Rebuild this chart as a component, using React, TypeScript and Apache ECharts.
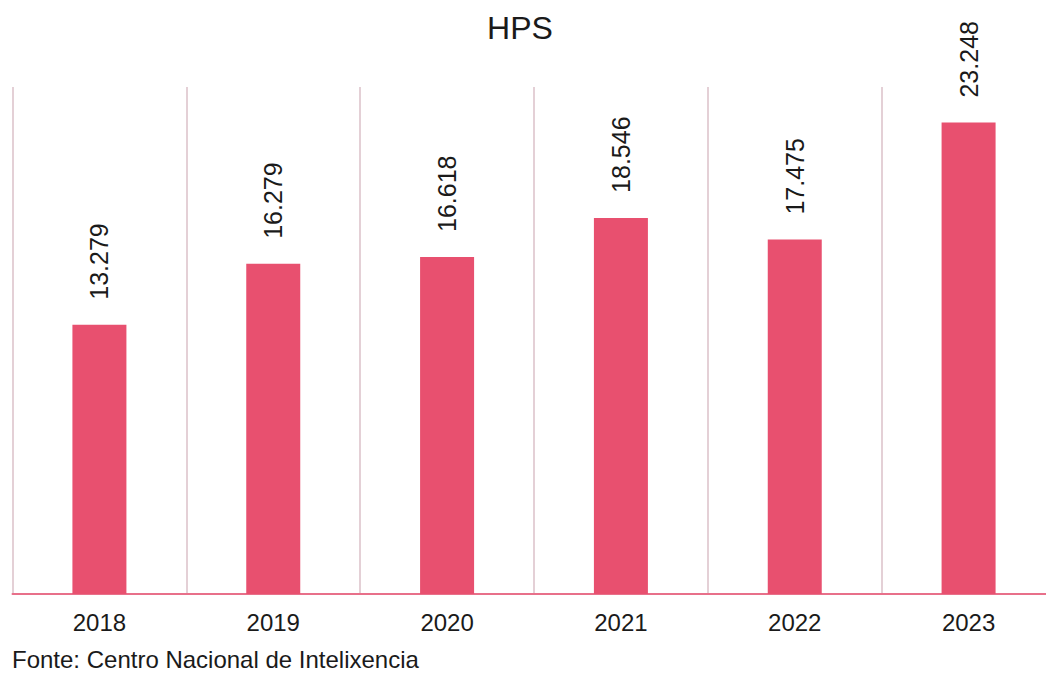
import React, { useEffect, useRef } from "react";
import * as echarts from "echarts";

const categories = ["2018", "2019", "2020", "2021", "2022", "2023"];
const values = [13279, 16279, 16618, 18546, 17475, 23248];
const titleText = "HPS";
const sourceText = "Fonte: Centro Nacional de Intelixencia";

const fmt = (v: number) => {
  const s = String(Math.round(v));
  return s.replace(/\B(?=(\d{3})+(?!\d))/g, ".");
};

export default function App() {
  const ref = useRef<HTMLDivElement>(null);
  useEffect(() => {
    const chart = echarts.init(ref.current!, null, { renderer: "svg" });
    const font = "'Liberation Sans', Arial, sans-serif";
    chart.setOption({
      animation: false,
      backgroundColor: "#ffffff",
      title: {
        text: titleText,
        left: 515,
        top: 7,
        textAlign: "center",
        textStyle: { fontFamily: font, fontSize: 32, fontWeight: "normal", color: "#1a1a1a" },
      },
      graphic: [
        {
          type: "text",
          left: 12,
          top: 647,
          style: { text: sourceText, font: `24px ${font}`, fill: "#1a1a1a" },
        },
      ],
      grid: { left: 12.5, top: 87, width: 1043, height: 507, containLabel: false },
      xAxis: {
        type: "category",
        data: categories,
        axisLine: { show: true, lineStyle: { color: "#e8708a", width: 2 } },
        axisTick: { show: false },
        splitLine: { show: true, lineStyle: { color: "#e4d0d6", width: 2 } },
        axisLabel: { fontFamily: font, fontSize: 24, color: "#1a1a1a", margin: 16 },
      },
      yAxis: {
        type: "value",
        min: 0,
        max: 25000,
        show: false,
        splitLine: { show: false },
      },
      series: [
        {
          type: "bar",
          data: values,
          barWidth: 54,
          itemStyle: { color: "#e8506f" },
          label: {
            show: true,
            position: "top",
            rotate: 90,
            align: "left",
            verticalAlign: "middle",
            distance: 25,
            fontFamily: font,
            fontSize: 25,
            color: "#1a1a1a",
            formatter: (p: any) => fmt(p.value),
          },
        },
      ],
    });
    return () => chart.dispose();
  }, []);
  return (
    <div
      style={{ position: "fixed", left: 0, top: 0, width: 1046, height: 673, overflow: "hidden" }}
    >
      <div ref={ref} style={{ width: 1070, height: 673 }} />
    </div>
  );
}
